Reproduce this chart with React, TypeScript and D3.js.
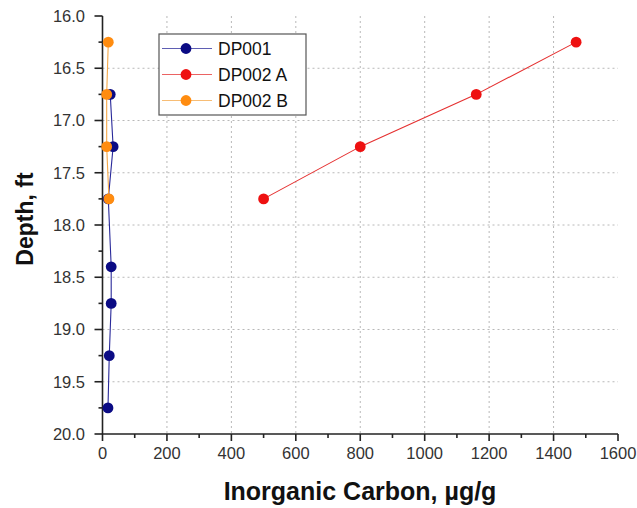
import React from "react";
import * as d3 from "d3";

// ---- Data ----
const dp001Depth = [16.75, 17.25, 17.75, 18.4, 18.75, 19.25, 19.75];
const dp001Carbon = [24, 33, 18, 27, 27, 21, 17];

const dp002ADepth = [16.25, 16.75, 17.25, 17.75];
const dp002ACarbon = [1470, 1160, 800, 500];

const dp002BDepth = [16.25, 16.75, 17.25, 17.75];
const dp002BCarbon = [18, 13, 13, 20];

const seriesNames = ["DP001", "DP002 A", "DP002 B"];
const xTicks = [0, 200, 400, 600, 800, 1000, 1200, 1400, 1600];
const yTicks = [16.0, 16.5, 17.0, 17.5, 18.0, 18.5, 19.0, 19.5, 20.0];
const xMinorTicks = [100, 300, 500, 700, 900, 1100, 1300, 1500];
const yMinorTicks = [16.25, 16.75, 17.25, 17.75, 18.25, 18.75, 19.25, 19.75];

const xTitle = "Inorganic Carbon, \u00b5g/g";
const yTitle = "Depth, ft";

const W = 637;
const H = 508;
const left = 102.5;
const right = 618;
const top = 16;
const bottom = 434;

const FONT = "Arial, 'Liberation Sans', Helvetica, sans-serif";

const colors = ["#0b0b84", "#ee1111", "#ff8c10"];
const lineColors = ["#2a2a9a", "#e53030", "#f5a848"];

export default function App() {
  const x = d3.scaleLinear().domain([0, 1600]).range([left, right]);
  const y = d3.scaleLinear().domain([16, 20]).range([top, bottom]);

  const series = [
    { name: seriesNames[0], xs: dp001Carbon, ys: dp001Depth },
    { name: seriesNames[1], xs: dp002ACarbon, ys: dp002ADepth },
    { name: seriesNames[2], xs: dp002BCarbon, ys: dp002BDepth },
  ];

  const line = d3
    .line<[number, number]>()
    .x((d) => x(d[0]))
    .y((d) => y(d[1]));

  const legX = 159;
  const legY = 34;
  const legW = 147;
  const legH = 81;
  const legRows = [48.5, 74.5, 100.5];

  return (
    <svg
      width={W}
      height={H}
      style={{ position: "absolute", left: 0, top: 0, background: "#fff" }}
      fontFamily={FONT}
    >
      <rect x={0} y={0} width={W} height={H} fill="#fff" />
      {/* grid */}
      {xTicks
        .filter((t) => t > 0 && t < 1600)
        .map((t) => (
          <line
            key={"gx" + t}
            x1={x(t)}
            x2={x(t)}
            y1={top}
            y2={bottom}
            stroke="#b8b8b8"
            strokeWidth={1}
            strokeDasharray="2,3"
          />
        ))}
      {yTicks
        .filter((t) => t > 16 && t < 20)
        .map((t) => (
          <line
            key={"gy" + t}
            x1={left}
            x2={right}
            y1={y(t)}
            y2={y(t)}
            stroke="#b8b8b8"
            strokeWidth={1}
            strokeDasharray="2,3"
          />
        ))}

      {/* axes */}
      <line x1={left} x2={left} y1={top} y2={bottom} stroke="#222" strokeWidth={1.6} />
      <line x1={left} x2={right} y1={bottom} y2={bottom} stroke="#222" strokeWidth={1.6} />
      {xTicks.map((t) => (
        <line key={"xt" + t} x1={x(t)} x2={x(t)} y1={bottom} y2={bottom + 7} stroke="#222" strokeWidth={1.6} />
      ))}
      {xMinorTicks.map((t) => (
        <line key={"xm" + t} x1={x(t)} x2={x(t)} y1={bottom} y2={bottom + 4} stroke="#222" strokeWidth={1.6} />
      ))}
      {yTicks.map((t) => (
        <line key={"yt" + t} x1={left - 8} x2={left} y1={y(t)} y2={y(t)} stroke="#222" strokeWidth={1.6} />
      ))}
      {yMinorTicks.map((t) => (
        <line key={"ym" + t} x1={left - 4} x2={left} y1={y(t)} y2={y(t)} stroke="#222" strokeWidth={1.6} />
      ))}

      {/* tick labels */}
      {xTicks.map((t) => (
        <text key={"xl" + t} x={x(t)} y={459} textAnchor="middle" fontSize={16.5} fill="#333">
          {t}
        </text>
      ))}
      {yTicks.map((t) => (
        <text key={"yl" + t} x={85} y={y(t) + 5.8} textAnchor="end" fontSize={16.5} fill="#333">
          {t.toFixed(1)}
        </text>
      ))}

      {/* titles */}
      <text x={360} y={500} textAnchor="middle" fontSize={25} fontWeight="bold" fill="#111">
        {xTitle}
      </text>
      <text
        transform={`translate(33,219) rotate(-90)`}
        textAnchor="middle"
        fontSize={23}
        fontWeight="bold"
        fill="#111"
      >
        {yTitle}
      </text>

      {/* series */}
      {series.map((s, i) => {
        const pts: [number, number][] = s.xs.map((v, j) => [v, s.ys[j]]);
        return (
          <g key={s.name}>
            <path d={line(pts) || ""} fill="none" stroke={lineColors[i]} strokeWidth={1.1} />
            {pts.map((p, j) => (
              <circle key={j} cx={x(p[0])} cy={y(p[1])} r={5.4} fill={colors[i]} />
            ))}
          </g>
        );
      })}

      {/* legend */}
      <rect x={legX} y={legY} width={legW} height={legH} fill="#fff" stroke="#555" strokeWidth={1.2} />
      {series.map((s, i) => (
        <g key={"leg" + s.name}>
          <line x1={162} x2={212} y1={legRows[i]} y2={legRows[i]} stroke={lineColors[i]} strokeWidth={1.2} opacity={0.75} />
          <circle cx={186} cy={legRows[i]} r={5.4} fill={colors[i]} />
          <text x={218} y={legRows[i] + 6.3} fontSize={17.5} fill="#111">
            {s.name}
          </text>
        </g>
      ))}
    </svg>
  );
}
